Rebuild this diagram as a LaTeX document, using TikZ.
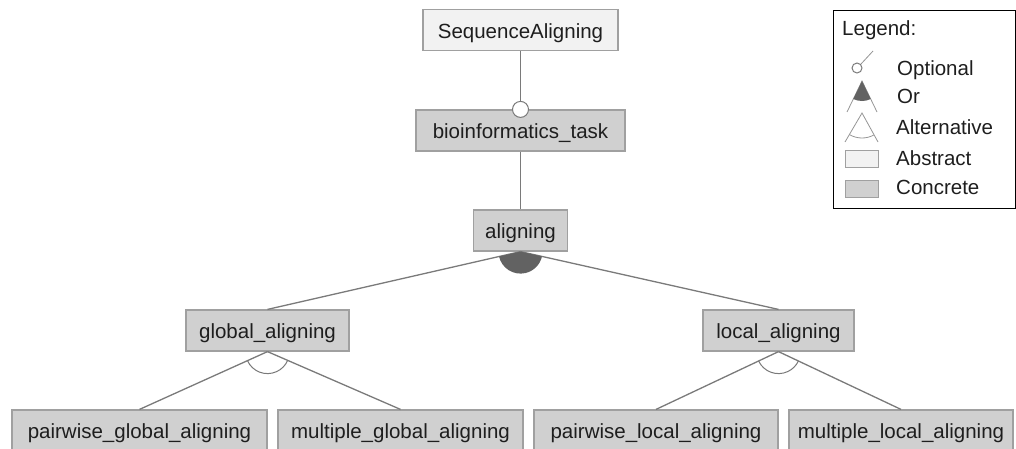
\documentclass[tikz,border=0pt]{standalone}
\usepackage{fontspec}
\setmainfont{Liberation Sans}
\usetikzlibrary{calc}

\definecolor{edgegray}{HTML}{7A7A7A}
\definecolor{boxline}{HTML}{A0A0A0}
\definecolor{concretefill}{HTML}{D0D0D0}
\definecolor{abstractfill}{HTML}{F2F2F2}
\definecolor{orfill}{HTML}{626262}
\definecolor{labeltext}{HTML}{1E1E1E}

\begin{document}
\begin{tikzpicture}[x=1pt,y=-1pt,
  feature/.style={draw=boxline, line width=1.2pt, minimum height=41pt, inner sep=0pt,
    text height=16pt, text depth=0pt, text=labeltext,
    font=\fontsize{20.5}{24}\selectfont},
  concrete/.style={feature, fill=concretefill},
  abstract/.style={feature, fill=abstractfill},
  edge/.style={draw=edgegray, line width=1.3pt},
  thinedge/.style={draw=edgegray, line width=1pt},
  legendline/.style={draw=edgegray!80, line width=0.8pt},
  optmark/.style={circle, draw=edgegray, line width=1pt, fill=white, inner sep=0pt},
  legendtext/.style={anchor=base west, inner sep=0pt, text=labeltext,
    font=\fontsize{20.5}{24}\selectfont},
  swatch/.style={draw=boxline, line width=1pt, minimum width=33pt, minimum height=17pt,
    inner sep=0pt, anchor=north west},
]
\useasboundingbox (0,0) rectangle (1016,448);

% feature tree
\node[abstract, minimum width=195pt] (root) at (520.5,30) {SequenceAligning};
\node[concrete, minimum width=209pt] (bio) at (520.5,130.5) {bioinformatics\_task};
\node[concrete, minimum width=94pt] (al) at (520.5,230.5) {aligning};
\node[concrete, minimum width=163pt] (ga) at (267.5,330.5) {global\_aligning};
\node[concrete, minimum width=151pt] (la) at (778.5,330.5) {local\_aligning};
\node[concrete, minimum width=255pt] (pg) at (139.5,430.5) {pairwise\_global\_aligning};
\node[concrete, minimum width=245pt] (mg) at (400.5,430.5) {multiple\_global\_aligning};
\node[concrete, minimum width=244pt] (pl) at (656,430.5) {pairwise\_local\_aligning};
\node[concrete, minimum width=224pt] (ml) at (901,430.5) {multiple\_local\_aligning};

% optional child
\node[optmark, minimum size=16pt] (opt) at (bio.north) {};
\draw[edge] (root.south) -- (opt.north);

% mandatory child
\draw[edge] (bio.south) -- (al.north);

% or group
\draw[edge] (al.south) -- (ga.north);
\draw[edge] (al.south) -- (la.north);
\fill[orfill] let \p1=($(ga.north)-(al.south)$), \p2=($(la.north)-(al.south)$),
  \n1={atan2(\y1,\x1)}, \n2={atan2(\y2,\x2)} in
  (al.south) -- ++(\n1:22pt) arc[start angle=\n1, end angle=\n2, radius=22pt] -- cycle;

% alternative groups
\draw[edge] (ga.south) -- (pg.north);
\draw[edge] (ga.south) -- (mg.north);
\draw[thinedge] let \p1=($(pg.north)-(ga.south)$), \p2=($(mg.north)-(ga.south)$),
  \n1={atan2(\y1,\x1)}, \n2={atan2(\y2,\x2)} in
  ($(ga.south)+(\n1:22pt)$) arc[start angle=\n1, end angle=\n2, radius=22pt];

\draw[edge] (la.south) -- (pl.north);
\draw[edge] (la.south) -- (ml.north);
\draw[thinedge] let \p1=($(pl.north)-(la.south)$), \p2=($(ml.north)-(la.south)$),
  \n1={atan2(\y1,\x1)}, \n2={atan2(\y2,\x2)} in
  ($(la.south)+(\n1:22pt)$) arc[start angle=\n1, end angle=\n2, radius=22pt];

% legend
\node[draw=black, line width=1.3pt, minimum width=182pt, minimum height=198pt,
  inner sep=0pt, anchor=north west] (legend) at (833,10) {};
\node[legendtext] (lgtitle) at (842,35) {Legend:};

% optional symbol
\node[optmark, minimum size=10pt] (lgopt) at (857,68) {};
\coordinate (lgoptend) at (873,51);
\draw[legendline] (lgopt.north east) -- (lgoptend);
\node[legendtext] (lgopttext) at (897,75) {Optional};

% or symbol
\coordinate (lgor) at (862,81);
\coordinate (lgorl) at (847,112);
\coordinate (lgorr) at (877,112);
\draw[legendline] (lgorl) -- (lgor) -- (lgorr);
\fill[orfill] let \p1=($(lgorl)-(lgor)$), \p2=($(lgorr)-(lgor)$),
  \n1={atan2(\y1,\x1)}, \n2={atan2(\y2,\x2)} in
  (lgor) -- ++(\n1:20pt) arc[start angle=\n1, end angle=\n2, radius=20pt] -- cycle;
\node[legendtext] (lgortext) at (897,103) {Or};

% alternative symbol
\coordinate (lgalt) at (862,113);
\coordinate (lgaltl) at (845,142);
\coordinate (lgaltr) at (878,142);
\draw[legendline] (lgaltl) -- (lgalt) -- (lgaltr);
\draw[legendline] let \p1=($(lgaltl)-(lgalt)$), \p2=($(lgaltr)-(lgalt)$),
  \n1={atan2(\y1,\x1)}, \n2={atan2(\y2,\x2)} in
  ($(lgalt)+(\n1:25pt)$) arc[start angle=\n1, end angle=\n2, radius=25pt];
\node[legendtext] (lgalttext) at (896,134) {Alternative};

% abstract / concrete swatches
\node[swatch, fill=abstractfill] (lgabs) at (845,150) {};
\node[legendtext] (lgabstext) at (896,165) {Abstract};
\node[swatch, fill=concretefill] (lgcon) at (845,180) {};
\node[legendtext] (lgcontext) at (896,194) {Concrete};
\end{tikzpicture}
\end{document}
